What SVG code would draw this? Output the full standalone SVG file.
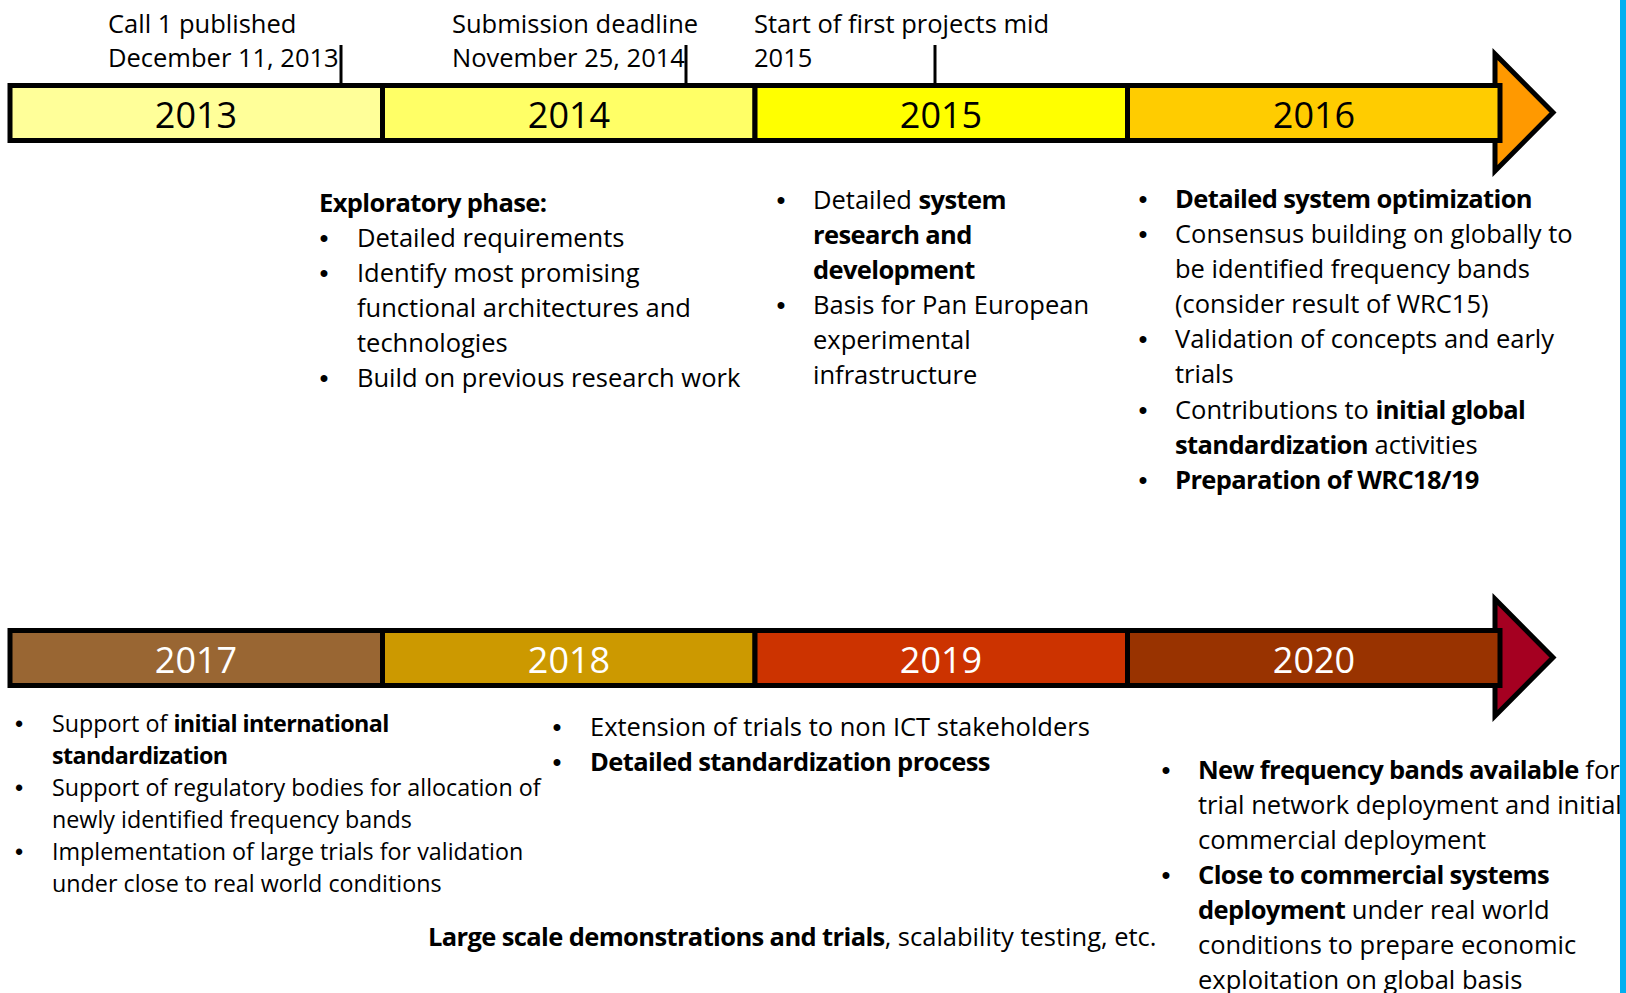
<svg xmlns="http://www.w3.org/2000/svg" width="1626" height="993" viewBox="0 0 1626 993">
  <style>
    text { font-family: "Open Sans", "Liberation Sans", sans-serif; fill: #000; }
    .body { font-size: 25.5px; }
    .small { font-size: 23.3px; }
    .b { font-weight: bold; letter-spacing: -0.62px; }
    .year { font-size: 36px; text-anchor: middle; }
    .yearW { font-size: 36px; text-anchor: middle; fill: #fff; }
    .bul { text-anchor: middle; font-family: "Liberation Sans", Arial, sans-serif; }
    .seg { stroke: #000; stroke-width: 5; }
    .head { stroke: #000; stroke-width: 5; stroke-linejoin: miter; }
    .tick { stroke: #000; stroke-width: 3; fill: none; }
  </style>

  <rect x="0" y="0" width="1626" height="993" fill="#fff"/>

  <!-- 2013 - 2016 timeline -->
  <g id="arrow-top">
    <polygon class="head" fill="#FF9900" points="1495,54 1553,112.5 1495,171"/>
  </g>
  <g id="year-2013">
    <rect class="seg" x="10" y="85.5" width="372.5" height="55" fill="#FFFF99"/>
    <text class="year" x="196" y="128">2013</text>
  </g>
  <g id="year-2014">
    <rect class="seg" x="382.5" y="85.5" width="372.5" height="55" fill="#FFFF66"/>
    <text class="year" x="569" y="128">2014</text>
  </g>
  <g id="year-2015">
    <rect class="seg" x="755" y="85.5" width="372.5" height="55" fill="#FFFF00"/>
    <text class="year" x="941" y="128">2015</text>
  </g>
  <g id="year-2016">
    <rect class="seg" x="1127.5" y="85.5" width="372.5" height="55" fill="#FFCC00"/>
    <text class="year" x="1314" y="128">2016</text>
  </g>

  <!-- milestone ticks -->
  <g id="connectors">
    <line class="tick" x1="341" y1="45" x2="341" y2="86"/>
    <line class="tick" x1="686" y1="45" x2="686" y2="86"/>
    <line class="tick" x1="935" y1="45" x2="935" y2="86"/>
  </g>

  <g id="milestone-call">
    <text class="body" x="108" y="33">Call 1 published</text>
    <text class="body" x="108" y="67">December 11, 2013</text>
  </g>
  <g id="milestone-deadline">
    <text class="body" x="452" y="33">Submission deadline</text>
    <text class="body" x="452" y="67">November 25, 2014</text>
  </g>
  <g id="milestone-start">
    <text class="body" x="754" y="33">Start of first projects mid</text>
    <text class="body" x="754" y="67">2015</text>
  </g>

  <g id="notes-2014">
    <text class="body b" x="319" y="212">Exploratory phase:</text>
    <text class="body bul" x="324" y="247">•</text>
    <text class="body" x="357" y="247">Detailed requirements</text>
    <text class="body bul" x="324" y="282">•</text>
    <text class="body" x="357" y="282">Identify most promising</text>
    <text class="body" x="357" y="317">functional architectures and</text>
    <text class="body" x="357" y="352">technologies</text>
    <text class="body bul" x="324" y="387">•</text>
    <text class="body" x="357" y="387">Build on previous research work</text>
  </g>

  <g id="notes-2015">
    <text class="body bul" x="781" y="209">•</text>
    <text class="body" x="813" y="209">Detailed <tspan class="b">system</tspan></text>
    <text class="body b" x="813" y="244">research and</text>
    <text class="body b" x="813" y="279">development</text>
    <text class="body bul" x="781" y="314">•</text>
    <text class="body" x="813" y="314">Basis for Pan European</text>
    <text class="body" x="813" y="349">experimental</text>
    <text class="body" x="813" y="384">infrastructure</text>
  </g>

  <g id="notes-2016">
    <text class="body bul" x="1143" y="208">•</text>
    <text class="body b" x="1175" y="208">Detailed system optimization</text>
    <text class="body bul" x="1143" y="243">•</text>
    <text class="body" x="1175" y="243">Consensus building on globally to</text>
    <text class="body" x="1175" y="278">be identified frequency bands</text>
    <text class="body" x="1175" y="313">(consider result of WRC15)</text>
    <text class="body bul" x="1143" y="348">•</text>
    <text class="body" x="1175" y="348">Validation of concepts and early</text>
    <text class="body" x="1175" y="383">trials</text>
    <text class="body bul" x="1143" y="419">•</text>
    <text class="body" x="1175" y="419">Contributions to <tspan class="b">initial global</tspan></text>
    <text class="body" x="1175" y="454"><tspan class="b">standardization</tspan> activities</text>
    <text class="body bul" x="1143" y="489">•</text>
    <text class="body b" x="1175" y="489">Preparation of WRC18/19</text>
  </g>

  <!-- 2017 - 2020 timeline -->
  <g id="arrow-bottom">
    <polygon class="head" fill="#A50021" points="1495,599 1553,657.5 1495,716"/>
  </g>
  <g id="year-2017">
    <rect class="seg" x="10" y="630.5" width="372.5" height="55" fill="#996633"/>
    <text class="yearW" x="196" y="673">2017</text>
  </g>
  <g id="year-2018">
    <rect class="seg" x="382.5" y="630.5" width="372.5" height="55" fill="#CC9900"/>
    <text class="yearW" x="569" y="673">2018</text>
  </g>
  <g id="year-2019">
    <rect class="seg" x="755" y="630.5" width="372.5" height="55" fill="#CC3300"/>
    <text class="yearW" x="941" y="673">2019</text>
  </g>
  <g id="year-2020">
    <rect class="seg" x="1127.5" y="630.5" width="372.5" height="55" fill="#993300"/>
    <text class="yearW" x="1314" y="673">2020</text>
  </g>

  <g id="notes-2017">
    <text class="small bul" x="19" y="732">•</text>
    <text class="small" x="52" y="732">Support of <tspan class="b">initial international</tspan></text>
    <text class="small b" x="52" y="764">standardization</text>
    <text class="small bul" x="19" y="796">•</text>
    <text class="small" x="52" y="796">Support of regulatory bodies for allocation of</text>
    <text class="small" x="52" y="828">newly identified frequency bands</text>
    <text class="small bul" x="19" y="860">•</text>
    <text class="small" x="52" y="860">Implementation of large trials for validation</text>
    <text class="small" x="52" y="892">under close to real world conditions</text>
  </g>

  <g id="notes-2018">
    <text class="body bul" x="557" y="736">•</text>
    <text class="body" x="590" y="736">Extension of trials to non ICT stakeholders</text>
    <text class="body bul" x="557" y="771">•</text>
    <text class="body b" x="590" y="771">Detailed standardization process</text>
  </g>

  <g id="notes-span">
    <text class="body" x="428" y="946"><tspan class="b">Large scale demonstrations and trials</tspan>, scalability testing, etc.</text>
  </g>

  <g id="notes-2020">
    <text class="body bul" x="1166" y="779">•</text>
    <text class="body" x="1198" y="779"><tspan class="b">New frequency bands available</tspan> for</text>
    <text class="body" x="1198" y="814">trial network deployment and initial</text>
    <text class="body" x="1198" y="849">commercial deployment</text>
    <text class="body bul" x="1166" y="884">•</text>
    <text class="body b" x="1198" y="884">Close to commercial systems</text>
    <text class="body" x="1198" y="919"><tspan class="b">deployment</tspan> under real world</text>
    <text class="body" x="1198" y="954">conditions to prepare economic</text>
    <text class="body" x="1198" y="989">exploitation on global basis</text>
  </g>

  <!-- right margin rule -->
  <rect id="margin-rule" x="1620" y="0" width="6" height="993" fill="#00B0F0"/>
</svg>
